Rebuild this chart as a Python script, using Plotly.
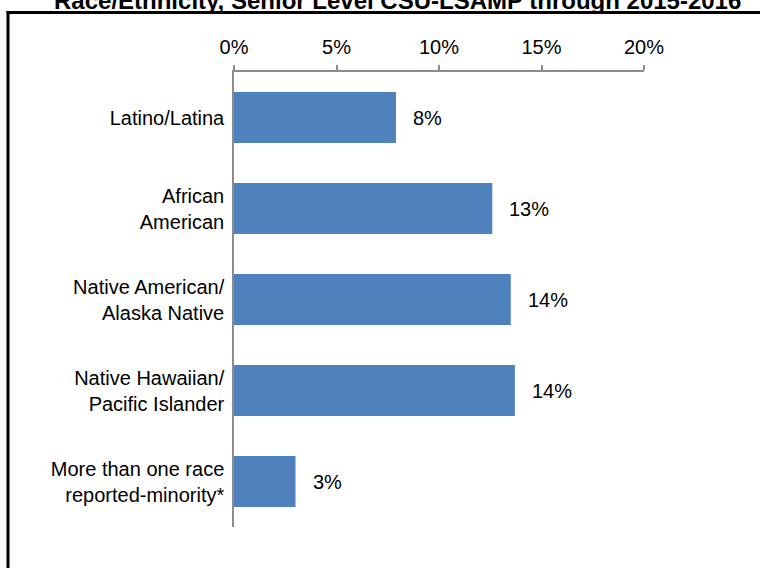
import plotly.graph_objects as go

# Share of senior-level participants by race/ethnicity
categories = [
    "Latino/Latina",
    "African<br>American",
    "Native American/<br>Alaska Native",
    "Native Hawaiian/<br>Pacific Islander",
    "More than one race<br>reported-minority*",
]
shares = [0.079, 0.126, 0.135, 0.137, 0.030]
x_ticks = [0, 0.05, 0.10, 0.15, 0.20]
x_tick_labels = ["0%", "5%", "10%", "15%", "20%"]
title_text = "Race/Ethnicity, Senior Level CSU-LSAMP through 2015-2016"

W, H = 760, 568
L, R, T, B = 234, 116, 72, 41
FONT = "Liberation Sans, Arial, sans-serif"
AXIS_GREY = "#8c8c8c"
BAR_BLUE = "#4F81BD"


def px_to_paper_x(p):
    return (p - L) / (W - L - R)


def px_to_paper_y(p):
    return (H - B - p) / (H - T - B)


fig = go.Figure(
    go.Bar(
        x=shares,
        y=categories,
        orientation="h",
        marker=dict(color=BAR_BLUE, line=dict(width=0)),
        hoverinfo="skip",
    )
)

# value labels just past the end of each bar
for cat, val in zip(categories, shares):
    fig.add_annotation(
        x=val, y=cat, xref="x", yref="y",
        text=f"{val * 100:.0f}%",
        showarrow=False, xanchor="left", yanchor="middle", xshift=15,
        font=dict(family=FONT, size=20, color="#000000"),
    )

# title line running above the frame's top edge
fig.add_annotation(
    x=px_to_paper_x(397), y=px_to_paper_y(16), xref="paper", yref="paper",
    text=f"<b>{title_text}</b>", showarrow=False,
    xanchor="center", yanchor="bottom",
    font=dict(family=FONT, size=24, color="#000000"),
)

# outer frame (top and left edges)
fig.add_shape(type="line", xref="paper", yref="paper",
              x0=px_to_paper_x(6.5), x1=px_to_paper_x(765),
              y0=px_to_paper_y(12.5), y1=px_to_paper_y(12.5),
              line=dict(color="#000000", width=3))
fig.add_shape(type="line", xref="paper", yref="paper",
              x0=px_to_paper_x(8), x1=px_to_paper_x(8),
              y0=px_to_paper_y(11), y1=px_to_paper_y(575),
              line=dict(color="#000000", width=3))

fig.update_layout(
    width=W, height=H,
    margin=dict(l=L, r=R, t=T, b=B, pad=0),
    paper_bgcolor="white", plot_bgcolor="white",
    bargap=0.44,
    showlegend=False,
    font=dict(family=FONT, size=20, color="#000000"),
    xaxis=dict(
        side="top", range=[0, 0.2],
        tickvals=x_ticks, ticktext=x_tick_labels,
        ticks="outside", ticklen=5, tickwidth=1.5, tickcolor=AXIS_GREY,
        ticklabelstandoff=3,
        showline=True, linecolor=AXIS_GREY, linewidth=1.5,
        showgrid=False, zeroline=False,
        tickfont=dict(family=FONT, size=20, color="#000000"),
        fixedrange=True,
    ),
    yaxis=dict(
        autorange="reversed",
        showline=True, linecolor=AXIS_GREY, linewidth=1.5,
        ticks="", showgrid=False, zeroline=False,
        ticklabelstandoff=4,
        tickfont=dict(family=FONT, size=20, color="#000000"),
        fixedrange=True,
    ),
)

fig.write_html("out.html")
